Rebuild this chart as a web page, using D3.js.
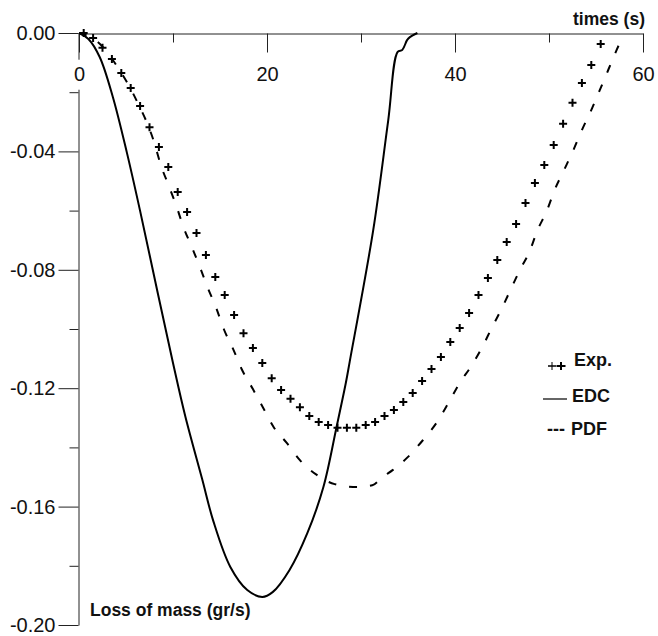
<!DOCTYPE html>
<html>
<head>
<meta charset="utf-8">
<script src="https://cdn.jsdelivr.net/npm/d3@7"></script>
<style>
  html, body { margin: 0; padding: 0; background: #fff; }
  svg { display: block; }
  text { font-family: Arial, "Liberation Sans", sans-serif; }
</style>
</head>
<body>
<svg id="chart" width="658" height="636"></svg>
<script>
// ---- data ----
const xMajorTicks = [0, 20, 40, 60];
const xMinorTicks = [10, 30, 50];
const yMajorTicks = [0, -0.04, -0.08, -0.12, -0.16, -0.20];
const yMinorTicks = [-0.02, -0.06, -0.10, -0.14, -0.18];
const xTitle = "times (s)";
const yTitle = "Loss of mass (gr/s)";
const legendLabels = ["Exp.", "EDC", "PDF"];

const expTime = [0.5, 1.5, 2.5, 3.5, 4.5, 5.5, 6.5, 7.5, 8.5, 9.5, 10.5, 11.5, 12.5, 13.5,
  14.5, 15.5, 16.5, 17.5, 18.5, 19.5, 20.5, 21.5, 22.5, 23.5, 24.5, 25.5, 26.5, 27.5,
  28.5, 29.5, 30.5, 31.5, 32.5, 33.5, 34.5, 35.5, 36.5, 37.5, 38.5, 39.5, 40.5, 41.5,
  42.5, 43.5, 44.5, 45.5, 46.5, 47.5, 48.5, 49.5, 50.5, 51.5, 52.5, 53.5, 54.5, 55.5];
const expValue = [0, -0.0017, -0.0050, -0.0088, -0.0135, -0.0186, -0.0247, -0.0318, -0.0385,
  -0.0453, -0.0537, -0.0605, -0.0676, -0.0750, -0.0824, -0.0885, -0.0953, -0.1014, -0.1064,
  -0.1115, -0.1166, -0.1206, -0.1236, -0.1264, -0.1294, -0.1314, -0.1324, -0.1334, -0.1334,
  -0.1334, -0.1324, -0.1314, -0.1294, -0.1274, -0.1247, -0.1216, -0.1176, -0.1135, -0.1095,
  -0.1044, -0.0997, -0.0946, -0.0885, -0.0828, -0.0767, -0.0706, -0.0645, -0.0574, -0.0507,
  -0.0446, -0.0378, -0.0307, -0.0236, -0.0169, -0.0108, -0.0037];

const edcTime = [0, 1, 2.2, 3.6, 5.1, 6.5, 8.4, 10.0, 11.3, 13.1, 14.3, 16.1, 17.9, 19.5,
  20.6, 22.4, 24.3, 26.0, 27.4, 28.4, 28.8, 31.3, 32.9, 33.9, 34.4, 34.9, 35.2, 36.0];
const edcValue = [0, -0.0020, -0.0081, -0.0216, -0.0405, -0.0601, -0.0882, -0.1115, -0.1294,
  -0.1507, -0.1650, -0.1804, -0.1882, -0.1905, -0.1889, -0.1814, -0.1689, -0.1534, -0.1331,
  -0.1180, -0.1110, -0.0666, -0.0294, -0.0064, -0.0057, -0.0024, -0.0014, 0];

const pdfTime = [0, 2, 4, 6, 8, 8.7, 9.6, 10.4, 11.1, 12.0, 12.9, 13.7, 14.6, 15.4, 16.4, 17.3,
  18.5, 19.6, 20.7, 22.1, 23.5, 25.3, 27.2, 29.6, 31.2, 32.3, 33.4, 35.0, 36.6, 38.1, 39.3,
  40.5, 41.8, 42.9, 43.9, 45.0, 45.9, 46.9, 48.0, 48.7, 49.8, 50.6, 51.6, 52.6, 53.5, 54.6,
  55.4, 56.3, 57.2, 57.8];
const pdfValue = [0, -0.0030, -0.0110, -0.0220, -0.0370, -0.0446, -0.0520, -0.0588, -0.0655,
  -0.0723, -0.0794, -0.0861, -0.0929, -0.1000, -0.1068, -0.1135, -0.1203, -0.1267, -0.1331,
  -0.1385, -0.1443, -0.1493, -0.1524, -0.1534, -0.1528, -0.1500, -0.1476, -0.1432, -0.1375,
  -0.1314, -0.1250, -0.1182, -0.1122, -0.1061, -0.0997, -0.0929, -0.0868, -0.0801, -0.0733,
  -0.0672, -0.0598, -0.0530, -0.0463, -0.0395, -0.0328, -0.0253, -0.0193, -0.0125, -0.0057,
  -0.0015];

// ---- drawing ----
const svg = d3.select("#chart");
const x = d3.scaleLinear().domain([0, 60]).range([79, 643]);
const y = d3.scaleLinear().domain([0, -0.2]).range([33, 625]);
const axisColor = "#222";
const fontStack = "Arial, 'Liberation Sans', sans-serif";
const fmtY = d => d3.format(".2f")(d).replace("\u2212", "-");

// Y axis (left) major + minor
const yAxisG = svg.append("g").attr("transform", `translate(${x(0) - 0.5},0)`);
yAxisG.call(d3.axisLeft(y).tickValues(yMajorTicks).tickSize(20).tickSizeOuter(0)
  .tickPadding(3).tickFormat(fmtY));
svg.append("g").attr("transform", `translate(${x(0) - 0.5},0)`)
  .call(d3.axisLeft(y).tickValues(yMinorTicks).tickSize(9).tickSizeOuter(0).tickFormat(""))
  .select(".domain").remove();

// X axis (top, ticks pointing down, labels below)
const xAxisG = svg.append("g").attr("transform", `translate(0,${y(0) + 0.5})`);
xAxisG.call(d3.axisBottom(x).tickValues(xMajorTicks).tickSize(19).tickSizeOuter(0)
  .tickPadding(14).tickFormat(d3.format("d")));
svg.append("g").attr("transform", `translate(0,${y(0) + 0.5})`)
  .call(d3.axisBottom(x).tickValues(xMinorTicks).tickSize(9).tickSizeOuter(0).tickFormat(""))
  .select(".domain").remove();

svg.selectAll(".domain, .tick line").attr("stroke", axisColor).attr("stroke-width", 1);
svg.selectAll(".tick text").attr("fill", "#111").style("font-size", "20px").style("font-family", fontStack);

// knock-out behind the "0" x label (the y axis line is interrupted there)
xAxisG.selectAll(".tick").filter(d => d === 0).each(function () {
  const t = d3.select(this);
  const bb = this.querySelector("text").getBBox();
  t.insert("rect", "text")
    .attr("x", bb.x - 1).attr("y", bb.y - 3)
    .attr("width", bb.width + 2).attr("height", bb.height + 8)
    .attr("fill", "#fff");
});

// Titles
svg.append("text").attr("x", x(60) + 2).attr("y", 25).attr("text-anchor", "end")
  .style("font-size", "17.5px").style("font-weight", "bold").attr("fill", "#111").text(xTitle);
svg.append("text").attr("x", 90).attr("y", 616)
  .style("font-size", "17.5px").style("font-weight", "bold").attr("fill", "#111").text(yTitle);

// Lines
const edcData = edcTime.map((t, i) => [t, edcValue[i]]);
const pdfData = pdfTime.map((t, i) => [t, pdfValue[i]]);
const expData = expTime.map((t, i) => [t, expValue[i]]);

const line = d3.line().x(d => x(d[0])).y(d => y(d[1])).curve(d3.curveMonotoneX);
const smooth = d3.line().x(d => x(d[0])).y(d => y(d[1])).curve(d3.curveCatmullRom.alpha(0.5));

svg.append("path").datum(pdfData).attr("d", line)
  .attr("fill", "none").attr("stroke", "#000").attr("stroke-width", 2)
  .attr("stroke-dasharray", "8,13");

svg.append("path").datum(edcData).attr("d", smooth)
  .attr("fill", "none").attr("stroke", "#000").attr("stroke-width", 2);

const plus = (s) => `M${-s},0H${s}M0,${-s}V${s}`;
svg.append("g").selectAll("path").data(expData).join("path")
  .attr("transform", d => `translate(${x(d[0])},${y(d[1])})`)
  .attr("d", plus(4))
  .attr("stroke", "#000").attr("stroke-width", 2).attr("fill", "none");

// Legend
const leg = svg.append("g");
const legY = [360, 396, 429];
// Exp marker: thin + and bold +
leg.append("path").attr("d", `M${548},${legY[0] + 6}H${566}`).attr("stroke", "#000").attr("stroke-width", 1);
leg.append("path").attr("transform", `translate(552,${legY[0] + 6})`).attr("d", plus(4))
  .attr("stroke", "#000").attr("stroke-width", 1).attr("fill", "none");
leg.append("path").attr("transform", `translate(561,${legY[0] + 6})`).attr("d", plus(4))
  .attr("stroke", "#000").attr("stroke-width", 2).attr("fill", "none");
// EDC line
leg.append("line").attr("x1", 543).attr("x2", 567).attr("y1", legY[1] + 3).attr("y2", legY[1] + 3)
  .attr("stroke", "#000").attr("stroke-width", 1.2);
// PDF "---"
leg.append("text").attr("x", 547).attr("y", legY[2] + 6)
  .style("font-size", "18px").style("font-weight", "bold").attr("fill", "#111").text("---");

const legX = [574, 572, 571];
leg.selectAll("text.lab").data(legendLabels).join("text").attr("class", "lab")
  .attr("x", (d, i) => legX[i]).attr("y", (d, i) => legY[i] + 6)
  .style("font-size", "18px").style("font-weight", "bold").attr("fill", "#111")
  .text(d => d);
</script>
</body>
</html>
